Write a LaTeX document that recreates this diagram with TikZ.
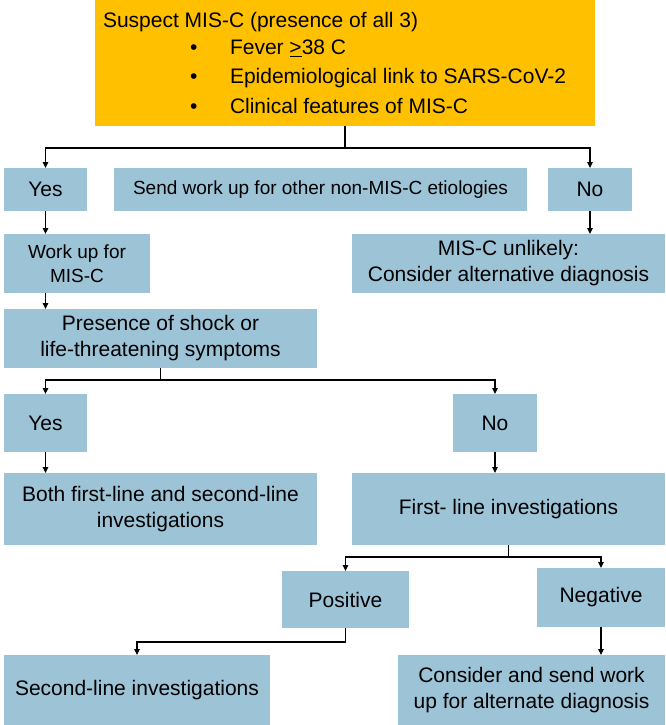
\documentclass[tikz,border=0pt]{standalone}
\usepackage{fontspec}
\setmainfont{Liberation Sans}
\usetikzlibrary{arrows.meta}
\definecolor{boxblue}{HTML}{9DC3D7}
\definecolor{topgold}{HTML}{FFC000}
\tikzset{
  bx/.style={fill=boxblue, draw=none, inner sep=0pt, outer sep=0pt, align=center,
    font=\fontsize{21}{26}\selectfont},
  smallbx/.style={bx, font=\fontsize{19}{24}\selectfont},
  topbx/.style={fill=topgold, draw=none, inner sep=0pt, outer sep=0pt},
  txt/.style={inner sep=0pt, outer sep=0pt, anchor=base west, font=\fontsize{21}{26}\selectfont},
  conn/.style={line width=1.4pt, black},
  arr/.style={conn, -{Triangle[length=6pt,width=5.5pt]}}
}
\begin{document}
\begin{tikzpicture}[x=1pt,y=-1pt]
\useasboundingbox (0,0) rectangle (665,725);
% top box
\node[topbx, minimum width=500pt, minimum height=126pt] (top) at (345,63) {};
\node[txt] (t0) at (103,28) {Suspect MIS-C (presence of all 3)};
\node[txt] (b1) at (190,55) {•};
\node[txt] (t1) at (230,55) {Fever \underline{>}38 C};
\node[txt] (b2) at (190,84) {•};
\node[txt] (t2) at (230,84) {Epidemiological link to SARS-CoV-2};
\node[txt] (b3) at (190,113) {•};
\node[txt] (t3) at (230,113) {Clinical features of MIS-C};
% row 1
\node[bx, minimum width=83pt, minimum height=43pt] (yes1) at (45.5,189.5) {Yes};
\node[smallbx, minimum width=413pt, minimum height=43pt] (send) at (320.5,189.5) {Send work up for other non-MIS-C etiologies};
\node[bx, minimum width=84pt, minimum height=43pt] (no1) at (590,189.5) {No};
% row 2
\node[smallbx, minimum width=146pt, minimum height=59pt] (workup) at (77,263.5) {Work up for\\MIS-C};
\node[bx, minimum width=313pt, minimum height=59pt] (unlikely) at (508.5,263.5) {MIS-C unlikely:\\Consider alternative diagnosis};
% row 3
\node[bx, minimum width=313pt, minimum height=59pt] (presence) at (160.5,338.5) {Presence of shock or\\life-threatening symptoms};
% row 4
\node[bx, minimum width=83pt, minimum height=58pt] (yes2) at (45.5,423) {Yes};
\node[bx, minimum width=84pt, minimum height=58pt] (no2) at (495,423) {No};
% row 5
\node[bx, minimum width=313pt, minimum height=72pt] (both) at (160.5,509) {Both first-line and second-line\\investigations};
\node[bx, minimum width=313pt, minimum height=72pt] (first) at (508.5,509) {First- line investigations};
% row 6
\node[bx, minimum width=127pt, minimum height=57pt] (positive) at (345.5,599.5) {Positive};
\node[bx, minimum width=128pt, minimum height=59pt] (negative) at (601,597.5) {Negative};
% row 7
\node[bx, minimum width=266pt, minimum height=70pt] (second) at (137,690) {Second-line investigations};
\node[bx, minimum width=267pt, minimum height=70pt] (consider) at (531.5,690) {Consider and send work\\up for alternate diagnosis};
% connectors
\coordinate (j1) at (345,148);
\draw[conn] (top.south) -- (j1);
\draw[arr] (j1) -| (yes1.north);
\draw[arr] (j1) -| (no1.north);
\draw[arr] (yes1.south) -- (yes1.south |- workup.north);
\draw[arr] (no1.south) -- (no1.south |- unlikely.north);
\draw[arr] (yes1.south |- workup.south) -- (yes1.south |- presence.north);
\coordinate (j2) at (160.5,380);
\draw[conn] (presence.south) -- (j2);
\draw[arr] (j2) -| (yes2.north);
\draw[arr] (j2) -| (no2.north);
\draw[arr] (yes2.south) -- (yes2.south |- both.north);
\draw[arr] (no2.south) -- (no2.south |- first.north);
\coordinate (j3) at (508.5,557);
\draw[conn] (first.south) -- (j3);
\draw[arr] (j3) -| (positive.north);
\draw[arr] (j3) -| (negative.north);
\coordinate (j4) at (345.5,642);
\draw[conn] (positive.south) -- (j4);
\draw[arr] (j4) -| (second.north);
\draw[arr] (negative.south) -- (negative.south |- consider.north);
\end{tikzpicture}
\end{document}
